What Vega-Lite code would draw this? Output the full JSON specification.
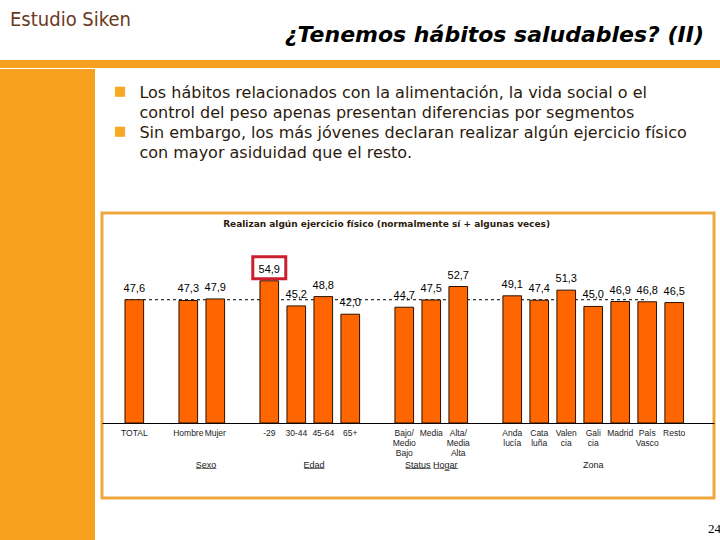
{
  "$schema": "https://vega.github.io/schema/vega-lite/v6.json",
  "padding": {"left": 0, "top": 10, "right": 0, "bottom": 0},
  "background": "white",
  "config": {
    "locale": {"number": {"decimal": ",", "thousands": ".", "grouping": [3], "currency": ["", " €"]}},
    "font": "DejaVu Sans"
  },
  "title": {
    "text": "Estudio Siken",
    "anchor": "start",
    "orient": "top",
    "frame": "bounds",
    "offset": -6,
    "dx": 10,
    "fontSize": 20,
    "font": "DejaVu Sans Condensed",
    "fontWeight": "normal",
    "color": "#6B3A1E"
  },
  "spacing": 0,
  "vconcat": [
    {
      "width": 720,
      "height": 8,
      "view": {"fill": "#F5A01E", "stroke": null},
      "title": {
        "text": "¿Tenemos hábitos saludables? (II)",
        "anchor": "end",
        "dx": -16,
        "offset": 13,
        "fontSize": 22,
        "font": "DejaVu Sans",
        "fontWeight": "bold",
        "fontStyle": "italic",
        "color": "#000000"
      },
      "data": {"values": [{"k": 1}]},
      "mark": {"type": "text", "fontSize": 1},
      "encoding": {"text": {"value": " "}}
    },
    {
      "spacing": 5,
      "hconcat": [
        {
          "width": 95,
          "height": 472,
          "view": {"fill": "#F5A01E", "stroke": null},
          "data": {"values": [{"k": 1}]},
          "mark": {"type": "text", "fontSize": 1},
          "encoding": {"text": {"value": " "}}
        },
        {
          "spacing": 50,
          "vconcat": [
            {
              "width": 612,
              "height": 1,
              "view": {"stroke": null},
              "title": {
                "text": ["■", "\u200b", "■", "\u200b"],
                "subtitle": ["\u200b\u00a0\u00a0\u00a0\u00a0\u00a0Los hábitos relacionados con la alimentación, la vida social o el", "\u200b\u00a0\u00a0\u00a0\u00a0\u00a0control del peso apenas presentan diferencias por segmentos", "\u200b\u00a0\u00a0\u00a0\u00a0\u00a0Sin embargo, los más jóvenes declaran realizar algún ejercicio físico", "\u200b\u00a0\u00a0\u00a0\u00a0\u00a0con mayor asiduidad que el resto."],
                "orient": "bottom",
                "anchor": "start",
                "dx": 12,
                "fontSize": 13,
                "lineHeight": 20,
                "color": "#F7A823",
                "fontWeight": "normal",
                "subtitleFont": "DejaVu Sans",
                "subtitleFontSize": 16,
                "subtitleLineHeight": 20,
                "subtitleColor": "#2B1B0E",
                "subtitlePadding": -73,
                "offset": 15
              },
              "data": {"values": [{"k": 1}]},
              "mark": {"type": "text", "fontSize": 1},
              "encoding": {"text": {"value": " "}}
            },
            {
              "width": 612,
              "height": 285,
              "view": {"stroke": "#F0A83C", "strokeWidth": 3},
              "data": {
                "values": [
                  {"cat": "TOTAL", "value": 47.6},
                  {"cat": "Hombre", "value": 47.3},
                  {"cat": "Mujer", "value": 47.9},
                  {"cat": "-29", "value": 54.9},
                  {"cat": "30-44", "value": 45.2},
                  {"cat": "45-64", "value": 48.8},
                  {"cat": "65+", "value": 42.0},
                  {"cat": "Bajo/ Medio Bajo", "value": 44.7},
                  {"cat": "Media", "value": 47.5},
                  {"cat": "Alta/ Media Alta", "value": 52.7},
                  {"cat": "Andalucía", "value": 49.1},
                  {"cat": "Cataluña", "value": 47.4},
                  {"cat": "Valencia", "value": 51.3},
                  {"cat": "Galicia", "value": 45.0},
                  {"cat": "Madrid", "value": 46.9},
                  {"cat": "País Vasco", "value": 46.8},
                  {"cat": "Resto", "value": 46.5}
                ]
              },
              "encoding": {
                "x": {
                  "field": "cat",
                  "type": "nominal",
                  "sort": null,
                  "scale": {
                    "domain": ["TOTAL", "gap1", "Hombre", "Mujer", "gap2", "-29", "30-44", "45-64", "65+", "gap3", "Bajo/ Medio Bajo", "Media", "Alta/ Media Alta", "gap4", "Andalucía", "Cataluña", "Valencia", "Galicia", "Madrid", "País Vasco", "Resto"],
                    "paddingInner": 0.31,
                    "paddingOuter": 0.99,
                    "align": 0.43
                  },
                  "axis": {
                    "orient": "bottom",
                    "offset": -75,
                    "title": "24",
                    "titleFont": "Liberation Serif",
                    "titleFontSize": 13,
                    "titleFontWeight": "normal",
                    "titleColor": "#000000",
                    "titleAnchor": "end",
                    "titleAlign": "center",
                    "titlePadding": 66,
                    "domainColor": "#000000",
                    "domainWidth": 1,
                    "ticks": false,
                    "labelAngle": 0,
                    "labelPadding": 5,
                    "labelFont": "Liberation Sans",
                    "labelFontSize": 8.5,
                    "labelColor": "#222222",
                    "labelLineHeight": 10,
                    "labelOverlap": false,
                    "labelBound": false,
                    "labelExpr": "datum.value == 'Bajo/ Medio Bajo' ? ['Bajo/','Medio','Bajo'] : datum.value == 'Alta/ Media Alta' ? ['Alta/','Media','Alta'] : datum.value == 'Andalucía' ? ['Anda','lucía'] : datum.value == 'Cataluña' ? ['Cata','luña'] : datum.value == 'Valencia' ? ['Valen','cia'] : datum.value == 'Galicia' ? ['Gali','cia'] : datum.value == 'País Vasco' ? ['País','Vasco'] : indexof(datum.value,'gap') == 0 ? '' : datum.value"
                  }
                },
                "y": {
                  "field": "value",
                  "type": "quantitative",
                  "scale": {"domain": [-28.96, 81.08], "zero": false, "nice": false},
                  "axis": null
                }
              },
              "layer": [
                {
                  "transform": [{"filter": "datum.cat == 'TOTAL'"}],
                  "mark": {"type": "rule", "strokeDash": [3, 3], "color": "#000000", "strokeWidth": 1},
                  "encoding": {
                    "x": {"datum": "TOTAL", "bandPosition": 0},
                    "x2": {"datum": "País Vasco"},
                    "y": {"field": "value", "type": "quantitative"}
                  }
                },
                {
                  "mark": {"type": "bar", "color": "#FF6600", "stroke": "#2A1200", "strokeWidth": 1}
                },
                {
                  "mark": {"type": "text", "font": "Liberation Sans", "fontSize": 11, "fontWeight": "normal", "color": "#000000", "baseline": "alphabetic", "dy": -8},
                  "encoding": {"text": {"field": "value", "type": "quantitative", "format": ".1f"}}
                },
                {
                  "transform": [{"filter": "datum.value == 54.9"}],
                  "mark": {"type": "point", "shape": "M-1.5,-1H1.5V1H-1.5Z", "size": 484, "filled": false, "stroke": "#CC1F2D", "strokeWidth": 3, "opacity": 1, "yOffset": -13}
                },
                {
                  "transform": [{"filter": "datum.cat == 'TOTAL'"}],
                  "mark": {"type": "text", "font": "DejaVu Sans", "fontSize": 9, "fontWeight": "bold", "color": "#2B1B0E"},
                  "encoding": {
                    "x": {"datum": "gap3", "bandPosition": 1},
                    "y": {"datum": 76.8},
                    "text": {"value": "Realizan algún ejercicio físico (normalmente sí + algunas veces)"}
                  }
                },
                {
                  "transform": [{"filter": "datum.cat == 'TOTAL'"}],
                  "mark": {"type": "text", "font": "Liberation Sans", "fontSize": 9, "fontWeight": "normal", "color": "#222222"},
                  "encoding": {
                    "x": {"datum": "Mujer", "bandPosition": 0},
                    "y": {"datum": -16.2},
                    "text": {"value": "S̲e̲x̲o̲"}
                  }
                },
                {
                  "transform": [{"filter": "datum.cat == 'TOTAL'"}],
                  "mark": {"type": "text", "font": "Liberation Sans", "fontSize": 9, "fontWeight": "normal", "color": "#222222"},
                  "encoding": {
                    "x": {"datum": "45-64", "bandPosition": 0},
                    "y": {"datum": -16.2},
                    "text": {"value": "E̲d̲a̲d̲"}
                  }
                },
                {
                  "transform": [{"filter": "datum.cat == 'TOTAL'"}],
                  "mark": {"type": "text", "font": "Liberation Sans", "fontSize": 9, "fontWeight": "normal", "color": "#222222"},
                  "encoding": {
                    "x": {"datum": "Media", "bandPosition": 0.5},
                    "y": {"datum": -16.2},
                    "text": {"value": "S̲t̲a̲t̲u̲s̲ H̲o̲g̲a̲r̲"}
                  }
                },
                {
                  "transform": [{"filter": "datum.cat == 'TOTAL'"}],
                  "mark": {"type": "text", "font": "Liberation Sans", "fontSize": 9, "fontWeight": "normal", "color": "#222222"},
                  "encoding": {
                    "x": {"datum": "Galicia", "bandPosition": 0.5},
                    "y": {"datum": -16.2},
                    "text": {"value": "Zona"}
                  }
                }
              ]
            }
          ]
        }
      ]
    }
  ]
}
